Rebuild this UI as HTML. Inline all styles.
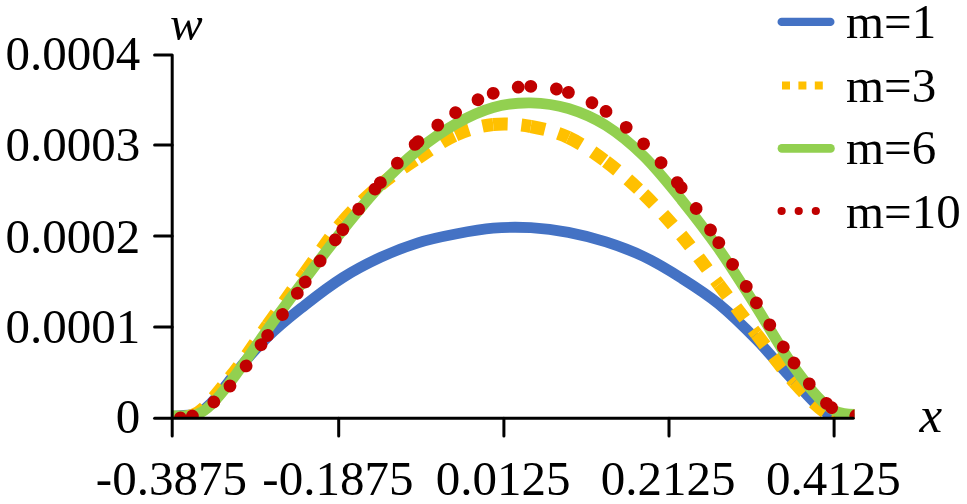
<!DOCTYPE html>
<html><head><meta charset="utf-8"><style>
html,body{margin:0;padding:0;background:#fff;}
body{width:967px;height:504px;overflow:hidden;}
svg{display:block;}
#c{width:967px;height:504px;}
</style></head><body><div id="c">
<svg width="967" height="504" viewBox="0 0 967 504">
<defs><clipPath id="pa"><rect x="172" y="0" width="682.6" height="418.4"/></clipPath></defs>
<g>
<g clip-path="url(#pa)" fill="none">
<path d="M154.8 418C167.3 416.8 179.9 415.8 192.4 414.5C204.9 413.2 217.5 396.3 230 380C242.5 363.7 255.1 349.5 267.6 337C280.1 324.5 292.7 314.9 305.2 305C317.7 295.1 330.3 285.5 342.8 277.6C355.3 269.7 367.9 263.2 380.4 257.4C392.9 251.6 405.5 246.7 418 242.8C430.5 238.9 443.1 236.4 455.6 234C468.1 231.6 480.7 229.2 493.2 228.2C505.7 227.1 518.3 227 530.8 227.7C543.3 228.4 555.9 230 568.4 232.4C580.9 234.8 593.5 237.9 606 241.9C618.5 245.9 631.1 250.5 643.6 256.5C656.1 262.5 668.7 270.1 681.2 278C693.7 285.9 706.3 293.8 718.8 304C731.3 314.3 743.9 326.7 756.4 339.5C768.9 352.3 781.5 368.3 794 381C806.5 393.8 819.1 409.8 831.6 416C844.1 422.2 856.7 417.3 869.2 418" stroke="#4472C4" stroke-width="10.8" stroke-linejoin="round"/>
<path d="M154.8 418 C167.3 417.2 179.9 419.9 192.4 415.5" stroke="#FFC000" stroke-width="13" stroke-dasharray="14.5 13.8"/>
<path d="M192.4 415.5 C204.9 411.1 217.5 392.6 230 377.5" stroke="#FFC000" stroke-width="13" stroke-dasharray="14.5 13.8"/>
<path d="M230 377.5 C242.5 362.4 255.1 342.5 267.6 325" stroke="#FFC000" stroke-width="13" stroke-dasharray="14.5 13.8"/>
<path d="M267.6 325 C280.1 307.5 292.7 289.8 305.2 272.5" stroke="#FFC000" stroke-width="13" stroke-dasharray="14.5 13.8"/>
<path d="M305.2 272.5 C317.7 255.2 330.3 236.1 342.8 221.5" stroke="#FFC000" stroke-width="13" stroke-dasharray="14.5 13.8"/>
<path d="M342.8 221.5 C355.3 206.9 367.9 195.6 380.4 185" stroke="#FFC000" stroke-width="13" stroke-dasharray="14.5 13.8"/>
<path d="M380.4 185 C392.9 174.4 405.5 166.3 418 158" stroke="#FFC000" stroke-width="13" stroke-dasharray="14.5 13.8"/>
<path d="M418 158 C430.5 149.7 443.1 140.6 455.6 135" stroke="#FFC000" stroke-width="13" stroke-dasharray="14.5 13.8"/>
<path d="M455.6 135 C468.1 129.4 480.7 125.9 493.2 124.5" stroke="#FFC000" stroke-width="13" stroke-dasharray="14.5 13.8"/>
<path d="M493.2 124.5 C505.7 123.1 518.3 124.3 530.8 126.5" stroke="#FFC000" stroke-width="13" stroke-dasharray="14.5 13.8"/>
<path d="M530.8 126.5 C543.3 128.7 555.9 131.7 568.4 137.5" stroke="#FFC000" stroke-width="13" stroke-dasharray="14.5 13.8"/>
<path d="M568.4 137.5 C580.9 143.3 593.5 152.1 606 161.5" stroke="#FFC000" stroke-width="13" stroke-dasharray="14.5 13.8"/>
<path d="M606 161.5 C618.5 170.9 631.1 181.8 643.6 194" stroke="#FFC000" stroke-width="13" stroke-dasharray="14.5 13.8"/>
<path d="M643.6 194 C656.1 206.2 668.7 219.9 681.2 235" stroke="#FFC000" stroke-width="13" stroke-dasharray="14.5 13.8"/>
<path d="M681.2 235 C693.7 250.1 706.3 268 718.8 284.5" stroke="#FFC000" stroke-width="13" stroke-dasharray="14.5 13.8"/>
<path d="M718.8 284.5 C731.3 301 743.9 317.7 756.4 334" stroke="#FFC000" stroke-width="13" stroke-dasharray="14.5 13.8"/>
<path d="M756.4 334 C768.9 350.2 781.5 368.3 794 382" stroke="#FFC000" stroke-width="13" stroke-dasharray="14.5 13.8"/>
<path d="M794 382 C806.5 395.7 819.1 410 831.6 416" stroke="#FFC000" stroke-width="13" stroke-dasharray="14.5 13.8"/>
<path d="M831.6 416 C844.1 422 856.7 417.3 869.2 418" stroke="#FFC000" stroke-width="13" stroke-dasharray="14.5 13.8"/>
<path d="M154.8 415C167.3 415.2 179.9 416.8 192.4 415.5C204.9 414.2 217.5 398.8 230 382.5C242.5 366.2 255.1 346.8 267.6 329.5C280.1 312.2 292.7 295.6 305.2 279C317.7 262.4 330.3 245.6 342.8 230C355.3 214.4 367.9 198.8 380.4 185.5C392.9 172.2 405.5 160.2 418 150C430.5 139.8 443.1 131.1 455.6 124C468.1 116.9 480.7 111 493.2 107.5C505.7 104 518.3 102.6 530.8 102.8C543.3 103 555.9 104.7 568.4 108.5C580.9 112.3 593.5 117.6 606 125.5C618.5 133.4 631.1 143.7 643.6 156C656.1 168.3 668.7 184 681.2 199.5C693.7 215 706.3 231.1 718.8 249C731.3 266.9 743.9 287.3 756.4 307C768.9 326.7 781.5 350 794 367C806.5 384 819.1 401 831.6 409C844.1 417 856.7 413 869.2 415" stroke="#92D050" stroke-width="10.8" stroke-linejoin="round"/>
<path d="M154.8 414.5 C167.3 415 179.9 420.8 192.4 416" stroke="#C00000" stroke-width="12.8" stroke-linecap="round" stroke-dasharray="0.01 25.79"/>
<path d="M192.4 416 C204.9 411.2 217.5 399.4 230 386" stroke="#C00000" stroke-width="12.8" stroke-linecap="round" stroke-dasharray="0.01 25.79"/>
<path d="M230 386 C242.5 372.6 255.1 352.8 267.6 335.5" stroke="#C00000" stroke-width="12.8" stroke-linecap="round" stroke-dasharray="0.01 25.79"/>
<path d="M267.6 335.5 C280.1 318.2 292.7 299.6 305.2 282" stroke="#C00000" stroke-width="12.8" stroke-linecap="round" stroke-dasharray="0.01 25.79"/>
<path d="M305.2 282 C317.7 264.4 330.3 246.2 342.8 229.7" stroke="#C00000" stroke-width="12.8" stroke-linecap="round" stroke-dasharray="0.01 25.79"/>
<path d="M342.8 229.7 C355.3 213.1 367.9 197.4 380.4 182.7" stroke="#C00000" stroke-width="12.8" stroke-linecap="round" stroke-dasharray="0.01 25.79"/>
<path d="M380.4 182.7 C392.9 168 405.5 153.4 418 141.7" stroke="#C00000" stroke-width="12.8" stroke-linecap="round" stroke-dasharray="0.01 25.79"/>
<path d="M418 141.7 C430.5 130 443.1 120.8 455.6 112.7" stroke="#C00000" stroke-width="12.8" stroke-linecap="round" stroke-dasharray="0.01 25.79"/>
<path d="M455.6 112.7 C468.1 104.6 480.7 97.7 493.2 93.3" stroke="#C00000" stroke-width="12.8" stroke-linecap="round" stroke-dasharray="0.01 25.79"/>
<path d="M493.2 93.3 C505.7 88.9 518.3 86.4 530.8 86.3" stroke="#C00000" stroke-width="12.8" stroke-linecap="round" stroke-dasharray="0.01 25.79"/>
<path d="M530.8 86.3 C543.3 86.1 555.9 88.2 568.4 92.4" stroke="#C00000" stroke-width="12.8" stroke-linecap="round" stroke-dasharray="0.01 25.79"/>
<path d="M568.4 92.4 C580.9 96.6 593.5 102.8 606 111.4" stroke="#C00000" stroke-width="12.8" stroke-linecap="round" stroke-dasharray="0.01 25.79"/>
<path d="M606 111.4 C618.5 120 631.1 131.1 643.6 143.8" stroke="#C00000" stroke-width="12.8" stroke-linecap="round" stroke-dasharray="0.01 25.79"/>
<path d="M643.6 143.8 C656.1 156.5 668.7 171.1 681.2 187.6" stroke="#C00000" stroke-width="12.8" stroke-linecap="round" stroke-dasharray="0.01 25.79"/>
<path d="M681.2 187.6 C693.7 204.1 706.3 223.5 718.8 242.7" stroke="#C00000" stroke-width="12.8" stroke-linecap="round" stroke-dasharray="0.01 25.79"/>
<path d="M718.8 242.7 C731.3 261.9 743.9 282.8 756.4 302.9" stroke="#C00000" stroke-width="12.8" stroke-linecap="round" stroke-dasharray="0.01 25.79"/>
<path d="M756.4 302.9 C768.9 322.9 781.5 345.6 794 363" stroke="#C00000" stroke-width="12.8" stroke-linecap="round" stroke-dasharray="0.01 25.79"/>
<path d="M794 363 C806.5 380.5 819.1 398.4 831.6 407.6" stroke="#C00000" stroke-width="12.8" stroke-linecap="round" stroke-dasharray="0.01 25.79"/>
<path d="M831.6 407.6 C844.1 416.8 856.7 414.5 869.2 418" stroke="#C00000" stroke-width="12.8" stroke-linecap="round" stroke-dasharray="0.01 25.79"/>
</g>
<g stroke="#000" stroke-width="3" fill="none" stroke-linecap="round" stroke-linejoin="round">
<path d="M154.6 54.9H172.2V436"/>
<path d="M154.6 418.3H853.2"/>
<path d="M154.6 145.0H172.2"/>
<path d="M154.6 236.1H172.2"/>
<path d="M154.6 327.1H172.2"/>
<path d="M338.7 418.3V436"/>
<path d="M503.9 418.3V436"/>
<path d="M669.0 418.3V436"/>
<path d="M834.1 418.3V436"/>
</g>
<g font-family="'Liberation Serif', serif" font-size="49" fill="#000"><text x="140.3" y="70.4" text-anchor="end">0.0004</text><text x="140.3" y="161.4" text-anchor="end">0.0003</text><text x="140.3" y="252.5" text-anchor="end">0.0002</text><text x="140.3" y="343.3" text-anchor="end">0.0001</text><text x="140.3" y="433.0" text-anchor="end">0</text><text x="171.39999999999998" y="494.6" text-anchor="middle">-0.3875</text><text x="337.9" y="494.6" text-anchor="middle">-0.1875</text><text x="503.09999999999997" y="494.6" text-anchor="middle">0.0125</text><text x="668.2" y="494.6" text-anchor="middle">0.2125</text><text x="833.3000000000001" y="494.6" text-anchor="middle">0.4125</text><text x="170" y="39.5" font-style="italic">w</text><text x="919.5" y="432" font-style="italic" font-size="51">x</text><text x="846" y="38.3">m=1</text><text x="846" y="101.9">m=3</text><text x="846" y="163.8">m=6</text><text x="846" y="228.4">m=10</text></g>
<path d="M781.7 21.9H830.3" stroke="#4472C4" stroke-width="8.4" stroke-linecap="round"/>
<path d="M782 85.6H822.8" stroke="#FFC000" stroke-width="8" stroke-dasharray="8 8.4"/>
<path d="M781.9 148.4H830.5" stroke="#92D050" stroke-width="8.6" stroke-linecap="round"/>
<path d="M781.6 211H820" stroke="#C00000" stroke-width="8.2" stroke-linecap="round" stroke-dasharray="0.01 17.1"/>
</g>
</svg></div>
</body></html>
